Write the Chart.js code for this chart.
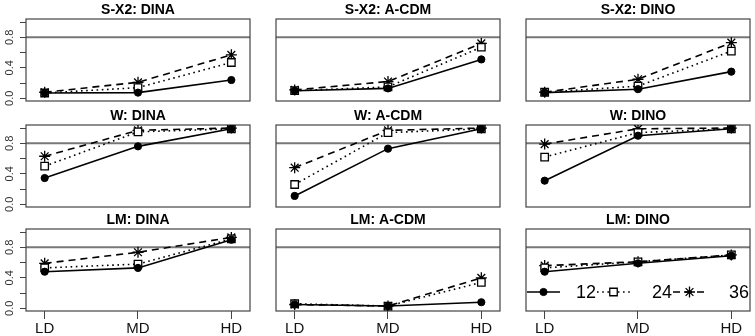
<!DOCTYPE html>
<html>
<head>
<meta charset="utf-8">
<script src="https://cdn.jsdelivr.net/npm/chart.js@4.4.1/dist/chart.umd.min.js"></script>
<style>
  html, body { margin: 0; padding: 0; background: #fff; }
  #grid { position: relative; width: 755px; height: 336px; overflow: hidden; }
  #grid canvas { position: absolute; }
</style>
</head>
<body>
<div id="grid"></div>
<script>
// data
var categories = ['LD', 'MD', 'HD'];
var seriesNames = ['12', '24', '36'];
var panelTitles = [
  'S-X2: DINA', 'S-X2: A-CDM', 'S-X2: DINO',
  'W: DINA', 'W: A-CDM', 'W: DINO',
  'LM: DINA', 'LM: A-CDM', 'LM: DINO'
];
// one row per series: 12, 24, 36
var sx2Dina = [[0.07, 0.075, 0.24], [0.07, 0.14, 0.47], [0.08, 0.21, 0.57]];
var sx2Acdm = [[0.10, 0.13, 0.51], [0.10, 0.15, 0.67], [0.11, 0.22, 0.72]];
var sx2Dino = [[0.075, 0.12, 0.35], [0.08, 0.16, 0.62], [0.08, 0.25, 0.73]];
var wDina = [[0.345, 0.76, 0.99], [0.50, 0.95, 0.99], [0.63, 0.97, 1.0]];
var wAcdm = [[0.11, 0.73, 0.99], [0.26, 0.94, 0.99], [0.48, 0.97, 1.0]];
var wDino = [[0.31, 0.90, 0.99], [0.62, 0.94, 0.99], [0.79, 0.99, 1.0]];
var lmDina = [[0.48, 0.53, 0.90], [0.53, 0.58, 0.91], [0.59, 0.735, 0.93]];
var lmAcdm = [[0.05, 0.03, 0.08], [0.06, 0.03, 0.34], [0.05, 0.03, 0.40]];
var lmDino = [[0.48, 0.59, 0.69], [0.53, 0.61, 0.70], [0.56, 0.61, 0.70]];
var panelValues = [sx2Dina, sx2Acdm, sx2Dino, wDina, wAcdm, wDino, lmDina, lmAcdm, lmDino];
var yTicks = [0, 0.2, 0.4, 0.6, 0.8, 1.0];
var yTickLabels = ['0.0', '', '0.4', '', '0.8', ''];
var refLine = 0.8;

var FONT = '"Liberation Sans", Arial, Helvetica, sans-serif';

var seriesStyles = [
  { borderDash: [], pointStyle: 'circle', pointRadius: 3.6, pointBackgroundColor: '#000', pointBorderWidth: 1 },
  { borderDash: [1.6, 3.6], pointStyle: 'rect', pointRadius: 5.3, pointBackgroundColor: '#fff', pointBorderWidth: 1.3 },
  { borderDash: [7, 5], pointStyle: 'star', pointRadius: 5.5, pointBackgroundColor: '#000', pointBorderWidth: 1.3 }
];

// box around the plot region plus the grey reference line
var frame = {
  id: 'frame',
  beforeDatasetsDraw: function (chart) {
    var ctx = chart.ctx, a = chart.chartArea;
    var yRef = chart.scales.y.getPixelForValue(refLine);
    ctx.save();
    ctx.strokeStyle = '#777';
    ctx.lineWidth = 2;
    ctx.beginPath();
    ctx.moveTo(a.left, yRef);
    ctx.lineTo(a.right, yRef);
    ctx.stroke();
    ctx.strokeStyle = '#444';
    ctx.lineWidth = 1.2;
    ctx.strokeRect(a.left, a.top, a.right - a.left, a.bottom - a.top);
    ctx.restore();
  }
};

// rotated y tick labels (R las=0 style), placed with the y scale
var yAxisLabels = {
  id: 'yAxisLabels',
  afterDraw: function (chart) {
    var ctx = chart.ctx, a = chart.chartArea, ys = chart.scales.y;
    ctx.save();
    ctx.font = '11px ' + FONT;
    ctx.fillStyle = '#333';
    ctx.textAlign = 'center';
    ctx.textBaseline = 'middle';
    yTicks.forEach(function (v, i) {
      if (!yTickLabels[i]) return;
      ctx.save();
      ctx.translate(a.left - 16.5, ys.getPixelForValue(v));
      ctx.rotate(-Math.PI / 2);
      ctx.fillText(yTickLabels[i], 0, 0);
      ctx.restore();
    });
    ctx.restore();
  }
};

// R style horizontal legend (line + symbol, then label) inside the last panel
var inlineLegend = {
  id: 'inlineLegend',
  afterDatasetsDraw: function (chart) {
    var ctx = chart.ctx, a = chart.chartArea;
    var y = a.top + 63;
    var lineStart = [1, 71, 147];
    var textStart = [50, 126, 203];
    ctx.save();
    chart.data.datasets.forEach(function (ds, k) {
      var x0 = a.left + lineStart[k], x1 = x0 + 33;
      ctx.strokeStyle = '#000';
      ctx.lineWidth = ds.borderWidth;
      ctx.setLineDash(ds.borderDash);
      ctx.beginPath();
      ctx.moveTo(x0, y);
      ctx.lineTo(x1, y);
      ctx.stroke();
      ctx.setLineDash([]);
      ctx.fillStyle = ds.pointBackgroundColor;
      ctx.lineWidth = ds.pointBorderWidth;
      Chart.helpers.drawPoint(ctx, {
        pointStyle: ds.pointStyle, radius: ds.pointRadius,
        borderWidth: ds.pointBorderWidth, rotation: 0
      }, (x0 + x1) / 2, y);
      ctx.fillStyle = '#000';
      ctx.font = '18px ' + FONT;
      ctx.textBaseline = 'middle';
      ctx.textAlign = 'left';
      ctx.fillText(ds.label, a.left + textStart[k], y + 1);
    });
    ctx.restore();
  }
};

var colX = [0, 250, 500];
var rowY = [0, 106, 210];
var rowH = [110, 110, 126];

function makePanel(p) {
  var col = p % 3, row = Math.floor(p / 3);
  var isLeft = col === 0, isBottom = row === 2;
  var canvas = document.createElement('canvas');
  canvas.width = 252;
  canvas.height = rowH[row];
  canvas.style.left = colX[col] + 'px';
  canvas.style.top = rowY[row] + 'px';
  document.getElementById('grid').appendChild(canvas);

  var datasets = panelValues[p].map(function (vals, k) {
    return Object.assign({
      label: seriesNames[k],
      data: vals.map(function (v, i) { return { x: i + 1, y: v }; }),
      borderColor: '#000',
      borderWidth: 1.6,
      pointBorderColor: '#000',
      tension: 0,
      fill: false
    }, seriesStyles[k]);
  });

  var plugins = [frame];
  if (isLeft) plugins.push(yAxisLabels);
  if (p === 8) plugins.push(inlineLegend);

  return new Chart(canvas, {
    type: 'line',
    data: { datasets: datasets },
    plugins: plugins,
    options: {
      responsive: false,
      animation: false,
      layout: { autoPadding: false, padding: { left: 0, right: 2, top: 0, bottom: isBottom ? 0 : 9 } },
      plugins: {
        legend: { display: false },
        tooltip: { enabled: false },
        title: {
          display: true, text: panelTitles[p], fullSize: false, color: '#000',
          font: { family: FONT, size: 14, weight: 'bold', lineHeight: 1.2 },
          padding: { top: 2.2, bottom: 0 }
        }
      },
      scales: {
        x: {
          type: 'linear', min: 0.8, max: 3.2, display: isBottom,
          afterBuildTicks: function (s) { s.ticks = categories.map(function (c, i) { return { value: i + 1 }; }); },
          afterFit: function (s) { s.height = isBottom ? 25 : 0; },
          ticks: {
            autoSkip: false, maxRotation: 0, padding: 1, color: '#111',
            font: { family: FONT, size: 15 },
            callback: function (v) { return categories[v - 1]; }
          },
          grid: { drawOnChartArea: false, tickLength: 8, tickColor: '#444', lineWidth: 1 },
          border: { display: false }
        },
        y: {
          min: -0.035, max: 1.04,
          afterBuildTicks: function (s) { s.ticks = yTicks.map(function (v) { return { value: v }; }); },
          afterFit: function (s) { s.width = 26; },
          ticks: { display: false },
          grid: { drawOnChartArea: false, drawTicks: isLeft, tickLength: 6, tickColor: '#444', lineWidth: 1 },
          border: { display: false }
        }
      }
    }
  });
}

for (var p = 0; p < 9; p++) makePanel(p);
</script>
</body>
</html>
